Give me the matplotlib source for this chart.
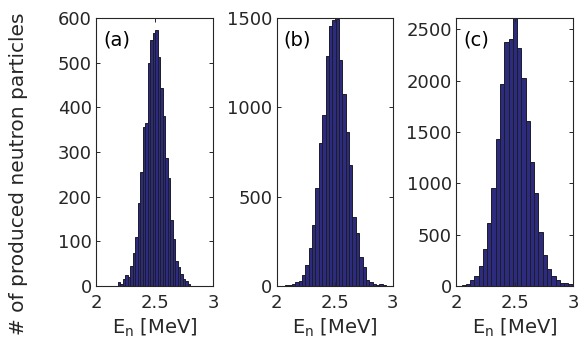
import numpy as np
import matplotlib.pyplot as plt

# histogram counts (left to right)
counts_a = [10, 5, 15, 25, 20, 45, 75, 110, 185, 255, 355, 365, 500, 550, 567,
            573, 512, 443, 380, 287, 241, 147, 105, 56, 43, 26, 16, 11, 4]
counts_b = [3, 7, 12, 20, 30, 60, 115, 210, 340, 550, 800, 955, 1285, 1455, 1490,
            1495, 1265, 1075, 860, 680, 385, 295, 165, 105, 35, 22, 12, 8, 10, 4, 2]
counts_c = [3, 8, 20, 55, 95, 190, 360, 610, 950, 1430, 1970, 2380, 2410, 2610,
            2320, 2030, 1610, 1210, 905, 525, 300, 165, 100, 60, 30, 25, 15]

# first bin edge and bin width (MeV) for each panel
start_a, width_a = 2.185, 0.0214
start_b, width_b = 2.073, 0.029
start_c, width_c = 2.011, 0.0365

labels = ['(a)', '(b)', '(c)']
ymax = [600, 1500, 2610]
yticks = [np.arange(0, 601, 100), np.arange(0, 1501, 500), np.arange(0, 2501, 500)]

plt.rcParams['font.family'] = 'DejaVu Sans'
txt = '#262626'

fig = plt.figure(figsize=(5.82, 3.47), dpi=100)
lefts = [96, 276.7, 456]
widths = [117, 116, 117]

data = [(counts_a, start_a, width_a), (counts_b, start_b, width_b), (counts_c, start_c, width_c)]
for i, (cnt, s, w) in enumerate(data):
    ax = fig.add_axes([lefts[i] / 582, 61 / 347, widths[i] / 582, 268 / 347])
    x = s + w * (np.arange(len(cnt)) + 0.5)
    ax.bar(x, cnt, width=w, color='#2d2b7d', edgecolor='#1c1c2a', linewidth=0.7)
    ax.set_xlim(2, 3)
    ax.set_ylim(0, ymax[i])
    ax.set_xticks([2, 2.5, 3])
    ax.set_xticklabels(['2', '2.5', '3'])
    ax.set_yticks(yticks[i])
    ax.tick_params(direction='in', top=True, right=True, length=3, width=0.7,
                   colors=txt, labelcolor=txt, labelsize=13)
    ax.tick_params(axis='x', pad=6)
    ax.tick_params(axis='y', pad=3)
    for sp in ax.spines.values():
        sp.set_color(txt)
        sp.set_linewidth(0.8)
    ax.set_xlabel(r'E$_\mathregular{n}$ [MeV]', color=txt, fontsize=14, labelpad=3)
    ax.text(0.06, 0.955, labels[i], transform=ax.transAxes, va='top', ha='left',
            color='black', fontsize=14)

fig.text(19 / 582, 0.5, '# of produced neutron particles', rotation=90,
         va='center', ha='center', color=txt, fontsize=14.5)

fig.savefig('out.png', dpi=100)
